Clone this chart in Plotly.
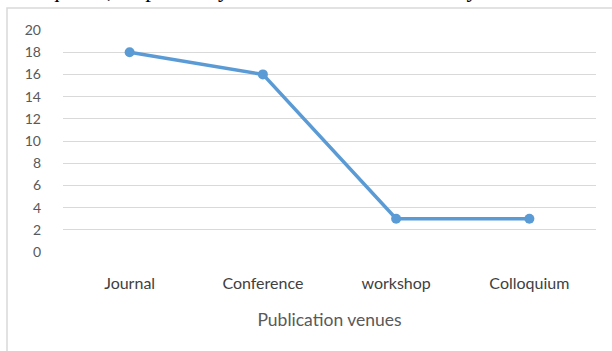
import plotly.graph_objects as go

venues = ["Journal", "Conference", "workshop", "Colloquium"]
counts = [18, 16, 3, 3]
y_ticks = [0, 2, 4, 6, 8, 10, 12, 14, 16, 18, 20]

W, H = 612, 351
ML, MR, MT, MB = 63, 16, 30, 99
pw = W - ML - MR
ph = H - MT - MB

def px_x(p):
    return (p - ML) / pw

def px_y(p):
    return (H - MB - p) / ph

fig = go.Figure()
fig.add_trace(go.Scatter(
    x=venues, y=counts, mode="lines+markers",
    line=dict(color="#5B9BD5", width=3.5),
    marker=dict(color="#5B9BD5", size=10),
    showlegend=False, cliponaxis=False,
))

font_fam = "Lato, 'Open Sans', sans-serif"
fig.update_layout(
    width=W, height=H,
    margin=dict(l=ML, r=MR, t=MT, b=MB, pad=0),
    paper_bgcolor="white", plot_bgcolor="white",
    xaxis=dict(
        type="category", range=[-0.5, 3.5],
        showgrid=False, showline=False, zeroline=False, ticks="",
        tickfont=dict(family=font_fam, size=16, color="#404040"),
        ticklabelstandoff=20,
        title=dict(text="Publication venues", standoff=22,
                   font=dict(family=font_fam, size=17.5, color="#595959")),
    ),
    yaxis=dict(
        range=[0, 20], tickvals=y_ticks,
        showgrid=True, gridcolor="#d9d9d9", gridwidth=1,
        zeroline=False, showline=False, ticks="",
        tickfont=dict(family=font_fam, size=14, color="#595959"),
        ticklabelstandoff=21,
    ),
    shapes=[dict(
        type="rect", xref="paper", yref="paper",
        x0=px_x(7), x1=px_x(630), y0=px_y(370), y1=px_y(8),
        line=dict(color="#d9d9d9", width=1.5), fillcolor="rgba(0,0,0,0)",
        layer="below",
    )],
    annotations=[dict(
        text="Colloquium, respectively were included in the study.",
        xref="paper", yref="paper", x=px_x(-5), y=px_y(4),
        xanchor="left", yanchor="bottom", showarrow=False,
        font=dict(family="'Liberation Serif', 'Times New Roman', serif", size=23, color="black"),
    )],
)

fig.write_html("out.html")
